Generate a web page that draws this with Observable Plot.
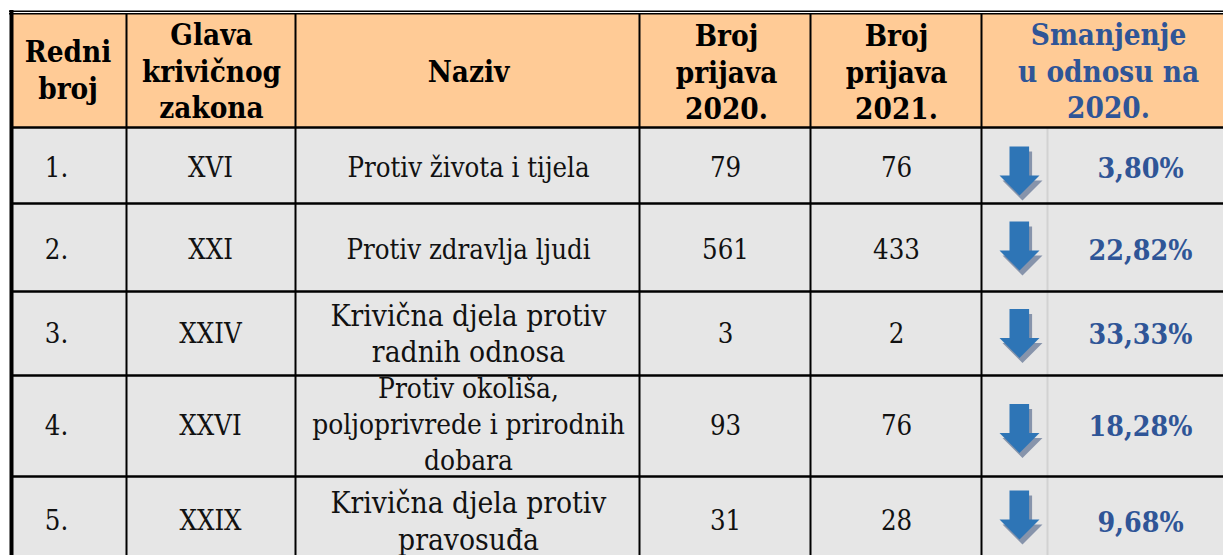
<!DOCTYPE html>
<html><head><meta charset="utf-8">
<style>html,body{margin:0;padding:0;background:#fff;overflow:hidden}</style>
<script src="https://cdn.jsdelivr.net/npm/d3@7"></script>
<script src="https://cdn.jsdelivr.net/npm/@observablehq/plot@0.6"></script>
</head><body>
<div id="chart"></div>
<script>
const headers = ["Redni\nbroj", "Glava\nkrivičnog\nzakona", "Naziv", "Broj\nprijava\n2020.", "Broj\nprijava\n2021.", "Smanjenje\nu odnosu na\n2020."];
const ordinals = ["1.", "2.", "3.", "4.", "5."];
const chapters = ["XVI", "XXI", "XXIV", "XXVI", "XXIX"];
const names = ["Protiv života i tijela", "Protiv zdravlja ljudi", "Krivična djela protiv\nradnih odnosa", "Protiv okoliša,\npoljoprivrede i prirodnih\ndobara", "Krivična djela protiv\npravosuđa"];
const reports2020 = [79, 561, 3, 93, 31];
const reports2021 = [76, 433, 2, 76, 28];
const decrease = [3.80, 22.82, 33.33, 18.28, 9.68];

// table layout (grid lines in the picture's own units)
const colEdges = [11, 126, 295, 639, 810, 981, 1223];
const rowEdges = [13, 127, 203, 291, 375, 476, 555];
const dataCenterX = [56, 210, 468, 725, 896];
const dataRowY = [168, 250, 334, 426, 520.5];
const nameY = [165, 247, 332, 422, 519.5];
const nameSize = [27.3, 27.3, 29.7, 27.8, 29.7];
const nameLineHeight = [1.3, 1.3, 1.22, 1.29, 1.24];
const headerCenterX = [67.5, 211, 468, 726, 896, 1108];
const headerRowY = [68.5, 69.5, 69.5, 70.5, 70.5, 69.5];
const arrowX = 1019;
const arrowY = [170.5, 245.5, 333, 428, 514.5];
const pctX = 1140;
const pctY = [168, 250.5, 334, 426, 522];
const dividerX = 1047;

const fmtPct = v => v.toFixed(2).replace(".", ",") + "%";
const idx = d3.range(ordinals.length);
const arrowSym = {draw(c, size){
  const r = Math.sqrt(size / Math.PI);
  c.moveTo(-0.5*r, -1.22*r); c.lineTo(0.48*r, -1.22*r); c.lineTo(0.48*r, 0.23*r);
  c.lineTo(r, 0.23*r); c.lineTo(0, 1.22*r); c.lineTo(-r, 0.23*r); c.lineTo(-0.5*r, 0.23*r); c.closePath();
}};
const serif = "'DejaVu Serif Condensed','DejaVu Serif',serif";
const blue = "#2f5597";

const bodyCells = idx.map(i => ({x1: colEdges[0], x2: colEdges[6], y1: rowEdges[i+1], y2: rowEdges[i+2]}));
const bodyCols = [
  {vals: ordinals, x: dataCenterX[0]},
  {vals: chapters, x: dataCenterX[1]},
  {vals: reports2020, x: dataCenterX[3]},
  {vals: reports2021, x: dataCenterX[4]}
];
const bodyTexts = bodyCols.flatMap(c => idx.map(i => ({t: String(c.vals[i]), x: c.x, y: dataRowY[i]})));
const headerTexts = headers.map((t, i) => ({t, x: headerCenterX[i], y: headerRowY[i], c: i === 5 ? blue : "#000"}));

const chart = Plot.plot({
  width: 1223, height: 555, margin: 0,
  x: {domain: [0, 1223], range: [0, 1223], axis: null},
  y: {domain: [0, 555], range: [0, 555], axis: null},
  style: {background: "#fff", fontFamily: serif, overflow: "hidden"},
  marks: [
    Plot.rect([{x1: colEdges[0], x2: colEdges[6], y1: rowEdges[0], y2: rowEdges[1]}], {x1:"x1", x2:"x2", y1:"y1", y2:"y2", fill:"#ffcb96"}),
    Plot.rect(bodyCells, {x1:"x1", x2:"x2", y1:"y1", y2:"y2", fill:"#e6e6e6"}),
    Plot.ruleX([dividerX], {y1: rowEdges[1], y2: rowEdges[6], stroke:"#d2d2d2", strokeWidth:2}),
    Plot.ruleX(colEdges.slice(1, 6), {y1: rowEdges[0], y2: rowEdges[6], stroke:"#000", strokeWidth:2}),
    Plot.ruleY(rowEdges.slice(1, 6), {x1: colEdges[0], x2: colEdges[6], stroke:"#000", strokeWidth:2.5}),
    Plot.ruleX([colEdges[0]], {y1: 10, y2: 555, stroke:"#000", strokeWidth:4}),
    Plot.ruleY([10.7], {x1: 9, x2: 1223, stroke:"#000", strokeWidth:1.6}),
    Plot.ruleY([13.3], {x1: 9, x2: 1223, stroke:"#000", strokeWidth:1.6}),
    Plot.text(headerTexts, {x:"x", y:"y", text:"t", fill:"c", fontSize:29.4, fontWeight:"bold", lineHeight:1.24}),
    Plot.text(bodyTexts, {x:"x", y:"y", text:"t", fill:"#111", fontSize:27.3}),
    ...idx.map(i => Plot.text([names[i]], {x:()=>dataCenterX[2], y:()=>nameY[i], text:d=>d, fill:"#111", fontSize:nameSize[i], lineHeight:nameLineHeight[i]})),
    Plot.dot(idx, {x:()=>arrowX, y:i=>arrowY[i], r:20, symbol:()=>arrowSym, fill:"#8794ab", stroke:"none", dx:3, dy:5}),
    Plot.dot(idx, {x:()=>arrowX, y:i=>arrowY[i], r:20, symbol:()=>arrowSym, fill:"#2e75b6", stroke:"none"}),
    Plot.text(idx, {x:()=>pctX, y:i=>pctY[i], text:i=>fmtPct(decrease[i]), fill:blue, fontSize:28.3, fontWeight:"bold"})
  ]
});
document.getElementById("chart").append(chart);
</script>
</body></html>
